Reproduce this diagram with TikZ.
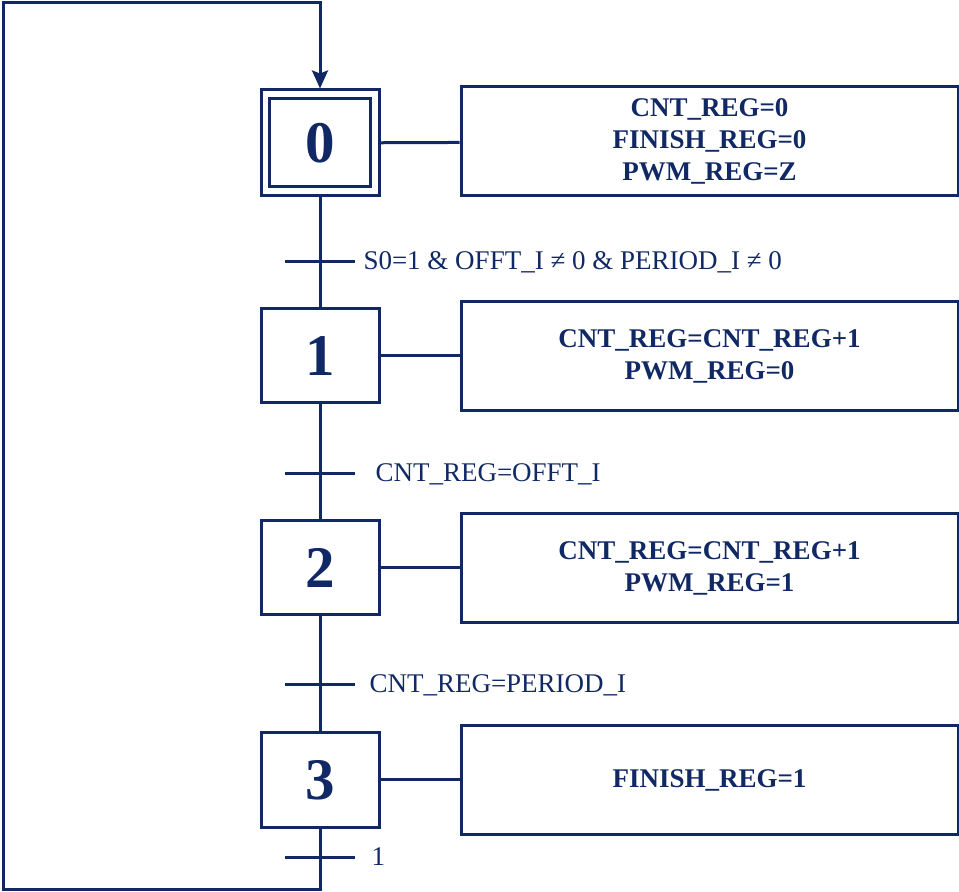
\documentclass[tikz,border=0pt]{standalone}
\usepackage{fontspec}
\setmainfont{Liberation Serif}
\usepackage{tikz}
\usetikzlibrary{arrows.meta}

\definecolor{grafnavy}{RGB}{16,40,100}

\tikzset{
  stepbox/.style={draw=grafnavy, line width=1.5pt, minimum width=59pt, minimum height=47pt,
    inner sep=0pt, text=grafnavy, font=\fontsize{29.5}{30}\selectfont\bfseries},
  actbox/.style={draw=grafnavy, line width=1.5pt, minimum width=248.5pt, minimum height=54.5pt,
    inner sep=0pt, align=center, text=grafnavy, font=\fontsize{13.5}{16}\selectfont\bfseries},
  translabel/.style={right, inner sep=0pt, text=grafnavy, font=\fontsize{13.5}{16}\selectfont},
}

\begin{document}
\begin{tikzpicture}[x=0.5pt, y=-0.5pt, >={Stealth[length=9pt,width=8pt,inset=1.5pt]}, line width=1.5pt, draw=grafnavy]
            \useasboundingbox (0,0) rectangle (959,892);

            % steps
            \node[stepbox, minimum height=53pt] (s0) at (320,143) {};
            \node[stepbox, minimum width=50.5pt, minimum height=44pt] (s0in) at (320,143) {0};
            \node[stepbox] (s1) at (320,356) {1};
            \node[stepbox] (s2) at (320,568) {2};
            \node[stepbox] (s3) at (320,780) {3};

            % actions
            \node[actbox] (a0) at (709.5,141.5) {CNT\_REG=0\\FINISH\_REG=0\\PWM\_REG=Z};
            \node[actbox] (a1) at (709.5,356) {CNT\_REG=CNT\_REG+1\\PWM\_REG=0};
            \node[actbox] (a2) at (709.5,568) {CNT\_REG=CNT\_REG+1\\PWM\_REG=1};
            \node[actbox] (a3) at (709.5,780) {FINISH\_REG=1};

            \draw[grafnavy] (s0) -- (a0);
            \draw[grafnavy] (s1) -- (a1);
            \draw[grafnavy] (s2) -- (a2);
            \draw[grafnavy] (s3) -- (a3);

            % links between steps
            \draw[grafnavy] (s0) -- (s1);
            \draw[grafnavy] (s1) -- (s2);
            \draw[grafnavy] (s2) -- (s3);

            % transitions
            \coordinate (t0a) at (285,262); \coordinate (t0b) at (355,262);
            \coordinate (t1a) at (285,474); \coordinate (t1b) at (355,474);
            \coordinate (t2a) at (285,685); \coordinate (t2b) at (355,685);
            \coordinate (t3a) at (285,857); \coordinate (t3b) at (355,857);
            \draw[grafnavy] (t0a) -- (t0b);
            \draw[grafnavy] (t1a) -- (t1b);
            \draw[grafnavy] (t2a) -- (t2b);
            \draw[grafnavy] (t3a) -- (t3b);
            \node[translabel] (c0) at (362,262) {S0=1 \& OFFT\_I ≠ 0 \& PERIOD\_I ≠ 0};
            \node[translabel] (c1) at (374,474) {CNT\_REG=OFFT\_I};
            \node[translabel] (c2) at (368,685) {CNT\_REG=PERIOD\_I};
            \node[translabel] (c3) at (370,857) {1};

            % loop back to the initial step
            \coordinate (lb) at (3,889);
            \coordinate (lt) at (3,3);
            \draw[grafnavy, ->] (s3) -- (s3 |- lb) -- (lb) -- (lt) -- (lt -| s0) -- (s0);
        \end{tikzpicture}
\end{document}
